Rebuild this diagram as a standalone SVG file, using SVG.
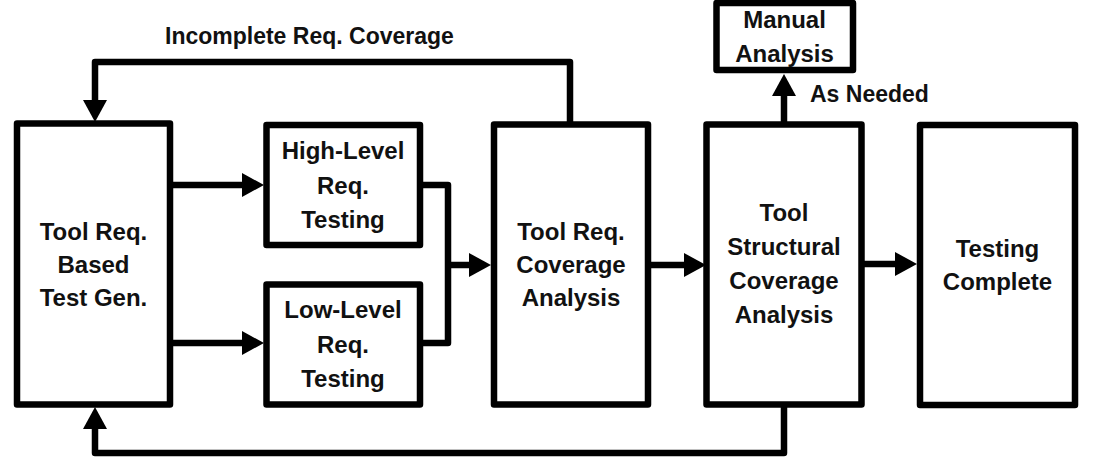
<svg xmlns="http://www.w3.org/2000/svg" width="1093" height="471" viewBox="0 0 1093 471">
  <defs>
    <marker id="ah" markerUnits="userSpaceOnUse" markerWidth="22" markerHeight="24" refX="0" refY="12" orient="auto" overflow="visible">
      <path d="M0,0 L22,12 L0,24 Z" fill="#000"/>
    </marker>
    <style>
      .box { fill: #fff; stroke: #000; stroke-width: 6.5; stroke-linejoin: round; }
      .conn { fill: none; stroke: #000; stroke-width: 6.5; stroke-linejoin: round; }
      .t { font-family: "Liberation Sans", Arial, sans-serif; font-weight: bold; font-size: 24px; fill: #111; text-anchor: middle; }
      .lbl { font-family: "Liberation Sans", Arial, sans-serif; font-weight: bold; font-size: 23px; fill: #111; }
    </style>
  </defs>
  <rect width="1093" height="471" fill="#fff"/>

  <g id="connectors">
    <path class="conn" d="M170,185 H242" marker-end="url(#ah)"/>
    <path class="conn" d="M170,343 H242" marker-end="url(#ah)"/>
    <path class="conn" d="M420,185 H448 V343 H420"/>
    <path class="conn" d="M448,265 H469" marker-end="url(#ah)"/>
    <path class="conn" d="M648,265 H684" marker-end="url(#ah)"/>
    <path class="conn" d="M861.5,264 H895" marker-end="url(#ah)"/>
    <path class="conn" d="M784,124.5 V96" marker-end="url(#ah)"/>
    <path class="conn" d="M570,124.5 V62 H95 V100" marker-end="url(#ah)"/>
    <path class="conn" d="M784,404.5 V453 H95 V429" marker-end="url(#ah)"/>
    <text class="lbl" x="165" y="44">Incomplete Req. Coverage</text>
    <text class="lbl" x="810" y="102">As Needed</text>
  </g>

  <g id="test-gen">
    <rect class="box" x="17" y="123.5" width="153" height="281"/>
    <text class="t" x="93.5" y="240">Tool Req.</text>
    <text class="t" x="93.5" y="273">Based</text>
    <text class="t" x="93.5" y="306">Test Gen.</text>
  </g>

  <g id="high-level">
    <rect class="box" x="266.5" y="125" width="153.5" height="120"/>
    <text class="t" x="343" y="159">High-Level</text>
    <text class="t" x="343" y="194">Req.</text>
    <text class="t" x="343" y="228">Testing</text>
  </g>

  <g id="low-level">
    <rect class="box" x="266.5" y="284.5" width="153.5" height="120"/>
    <text class="t" x="343" y="318">Low-Level</text>
    <text class="t" x="343" y="353">Req.</text>
    <text class="t" x="343" y="387">Testing</text>
  </g>

  <g id="req-coverage">
    <rect class="box" x="494" y="124.5" width="154" height="280"/>
    <text class="t" x="571" y="240">Tool Req.</text>
    <text class="t" x="571" y="273">Coverage</text>
    <text class="t" x="571" y="306">Analysis</text>
  </g>

  <g id="structural-coverage">
    <rect class="box" x="706.5" y="124.5" width="155" height="280"/>
    <text class="t" x="784" y="221">Tool</text>
    <text class="t" x="784" y="255">Structural</text>
    <text class="t" x="784" y="289">Coverage</text>
    <text class="t" x="784" y="323">Analysis</text>
  </g>

  <g id="testing-complete">
    <rect class="box" x="920" y="125" width="155" height="280"/>
    <text class="t" x="997.5" y="257">Testing</text>
    <text class="t" x="997.5" y="290">Complete</text>
  </g>

  <g id="manual-analysis">
    <rect class="box" x="716.5" y="3" width="136.5" height="67"/>
    <text class="t" x="784.5" y="28">Manual</text>
    <text class="t" x="784.5" y="62">Analysis</text>
  </g>
</svg>
